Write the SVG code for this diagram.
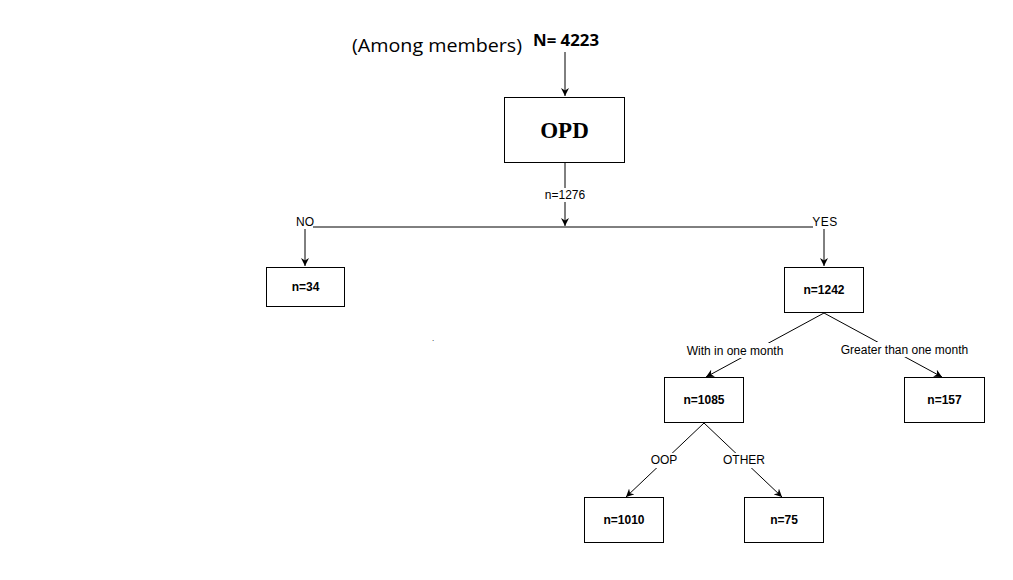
<svg xmlns="http://www.w3.org/2000/svg" width="1013" height="580" viewBox="0 0 1013 580">
<style>
.box{fill:#fff;stroke:#000;stroke-width:1}
.edge{fill:none;stroke:#000;stroke-width:1}
.nt{font-family:"Liberation Sans",Arial,sans-serif;font-size:12px;font-weight:bold;text-anchor:middle;fill:#000}
.lbl{font-family:"Liberation Sans",Arial,sans-serif;font-size:12px;text-anchor:middle;fill:#000}
.lblbg{fill:#fff}
</style>
<defs>
<marker id="ah" viewBox="0 0 10 10" refX="10" refY="5" markerWidth="8" markerHeight="8" markerUnits="userSpaceOnUse" orient="auto">
<path d="M0,0 L10,5 L0,10 L3,5 Z" fill="#000"/>
</marker>
</defs>
<rect width="1013" height="580" fill="#fff"/>
<g id="header">
<text x="352" y="52" font-family="'Open Sans','Liberation Sans',sans-serif" font-size="19" fill="#000" textLength="170" lengthAdjust="spacingAndGlyphs">(Among members)</text>
<text x="533" y="46" font-family="'Open Sans','Liberation Sans',sans-serif" font-size="16" font-weight="bold" fill="#000" textLength="66" lengthAdjust="spacingAndGlyphs">N= 4223</text>
</g>
<g id="connectors">
<line class="edge" x1="565" y1="52" x2="565" y2="96" marker-end="url(#ah)"/>
<line class="edge" x1="565" y1="163" x2="565" y2="226" marker-end="url(#ah)"/>
<line class="edge" x1="313" y1="227" x2="813" y2="227"/>
<line class="edge" x1="305" y1="229" x2="305" y2="266" marker-end="url(#ah)"/>
<line class="edge" x1="824" y1="229" x2="824" y2="266" marker-end="url(#ah)"/>
<line class="edge" x1="824" y1="313" x2="706" y2="377" marker-end="url(#ah)"/>
<line class="edge" x1="824" y1="313" x2="942" y2="377" marker-end="url(#ah)"/>
<line class="edge" x1="704" y1="423" x2="626" y2="497" marker-end="url(#ah)"/>
<line class="edge" x1="704" y1="423" x2="782" y2="497" marker-end="url(#ah)"/>
<rect class="lblbg" x="543" y="188" width="44" height="14"/>
<text class="lbl" x="565" y="199" font-size="10">n=1276</text>
<text class="lbl" x="305" y="226" font-size="11">NO</text>
<text class="lbl" x="825" y="226" font-size="11" letter-spacing="0.5">YES</text>
<rect class="lblbg" x="678" y="343" width="114" height="15"/>
<text class="lbl" x="735" y="355">With in one month</text>
<rect class="lblbg" x="833" y="342" width="144" height="15"/>
<text class="lbl" x="904.5" y="354">Greater than one month</text>
<rect class="lblbg" x="649" y="453" width="30" height="15"/>
<text class="lbl" x="664" y="464" font-size="11">OOP</text>
<rect class="lblbg" x="721" y="453" width="46" height="15"/>
<text class="lbl" x="744" y="464" font-size="11">OTHER</text>
</g>
<g id="node-opd">
<rect class="box" x="504.5" y="97.5" width="120" height="65"/>
<text x="564.5" y="138" font-family="'Liberation Serif','Times New Roman',serif" font-size="23" font-weight="bold" text-anchor="middle" fill="#000">OPD</text>
</g>
<g id="node-no">
<rect class="box" x="266.5" y="267.5" width="78" height="39"/>
<text class="nt" x="305.5" y="291">n=34</text>
</g>
<g id="node-yes">
<rect class="box" x="784.5" y="267.5" width="79" height="45"/>
<text class="nt" x="824" y="294">n=1242</text>
</g>
<g id="node-within">
<rect class="box" x="664.5" y="377.5" width="79" height="45"/>
<text class="nt" x="704" y="404">n=1085</text>
</g>
<g id="node-greater">
<rect class="box" x="904.5" y="377.5" width="80" height="45"/>
<text class="nt" x="944.5" y="404">n=157</text>
</g>
<g id="node-oop">
<rect class="box" x="584.5" y="497.5" width="79" height="45"/>
<text class="nt" x="624" y="524">n=1010</text>
</g>
<g id="node-other">
<rect class="box" x="744.5" y="497.5" width="79" height="45"/>
<text class="nt" x="784" y="524">n=75</text>
</g>
<text x="433" y="341" font-family="'Liberation Sans',sans-serif" font-size="8" fill="#000" text-anchor="middle">.</text>
</svg>
